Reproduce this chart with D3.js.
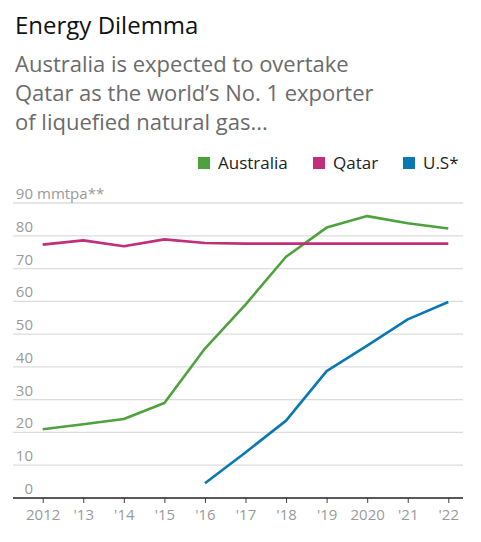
<!DOCTYPE html>
<html><head><meta charset="utf-8">
<script src="https://cdn.jsdelivr.net/npm/d3@7"></script>
<style>
html,body{margin:0;padding:0;background:#fff;}
svg{display:block;font-family:"Open Sans","Noto Sans",sans-serif;}
</style></head>
<body><svg id="c" width="481" height="542"></svg>
<script>
const years = [2012,2013,2014,2015,2016,2017,2018,2019,2020,2021,2022];
const yearLabels = ["2012","'13","'14","'15","'16","'17","'18","'19","2020","'21","'22"];
const australia = [21,22.5,24.1,29,45.6,59,73.6,82.5,86,83.8,82.2];
const qatar = [77.3,78.6,76.8,78.9,77.8,77.6,77.6,77.6,77.6,77.6,77.6];
const us = [null,null,null,null,4.5,13.9,23.6,38.7,46.5,54.5,59.8];
const yTicks = [0,10,20,30,40,50,60,70,80,90];
const seriesNames = ["Australia","Qatar","U.S*"];
const colors = ["#4ea23d","#c02f7b","#0a78b2"];

const svg = d3.select("#c");
const x = d3.scaleLinear().domain([2012,2022]).range([42.7,448.3]);
const y = d3.scaleLinear().domain([0,90]).range([498,203]);

svg.append("text").attr("x",15).attr("y",34).attr("font-size",24).attr("fill","#111").text("Energy Dilemma");
const sub = ["Australia is expected to overtake","Qatar as the world’s No. 1 exporter","of liquefied natural gas..."];
svg.selectAll(".sub").data(sub).join("text").attr("class","sub")
  .attr("x",15).attr("y",(d,i)=>72+i*29).attr("font-size",22).attr("fill","#6b6b6b").text(d=>d);

// legend
const legX = [198,313,403];
seriesNames.forEach((n,i)=>{
  svg.append("rect").attr("x",legX[i]).attr("y",157).attr("width",12).attr("height",12).attr("fill",colors[i]);
  svg.append("text").attr("x",legX[i]+20).attr("y",169).attr("font-size",17).attr("fill","#222").text(n);
});

// grid
const g = svg.append("g");
g.selectAll(".grid").data(yTicks.filter(d=>d>0)).join("line")
  .attr("x1",13).attr("x2",463).attr("y1",d=>y(d)).attr("y2",d=>y(d))
  .attr("stroke","#dcdcdc").attr("stroke-width",1.3);
g.selectAll(".yl").data(yTicks).join("text")
  .attr("x",33).attr("y",d=>y(d)-4).attr("text-anchor","end")
  .attr("font-size",15).attr("fill","#9a9a9a").text(d=>d);
g.append("text").attr("x",37).attr("y",y(90)-4).attr("font-size",15).attr("fill","#9a9a9a").text("mmtpa**");

// x axis
const xAxis = d3.axisBottom(x).tickValues(years).tickSize(5).tickPadding(6).tickFormat((d,i)=>yearLabels[i]);
const ax = svg.append("g").attr("transform","translate(0,498)").call(xAxis);
ax.select(".domain").remove();
ax.append("line").attr("x1",13).attr("x2",463).attr("stroke","#222").attr("stroke-width",1.3);
ax.selectAll(".tick line").attr("stroke","#444");
ax.selectAll(".tick text").attr("font-size",15).attr("fill","#9a9a9a").attr("font-family","'Open Sans','Noto Sans',sans-serif");

const line = d3.line().defined(d=>d[1]!=null).x(d=>x(d[0])).y(d=>y(d[1]));
[australia,qatar,us].forEach((s,i)=>{
  svg.append("path").datum(years.map((yr,j)=>[yr,s[j]]))
    .attr("d",line).attr("fill","none").attr("stroke",colors[i]).attr("stroke-width",2.6)
    .attr("stroke-linejoin","round");
});
</script></body></html>
